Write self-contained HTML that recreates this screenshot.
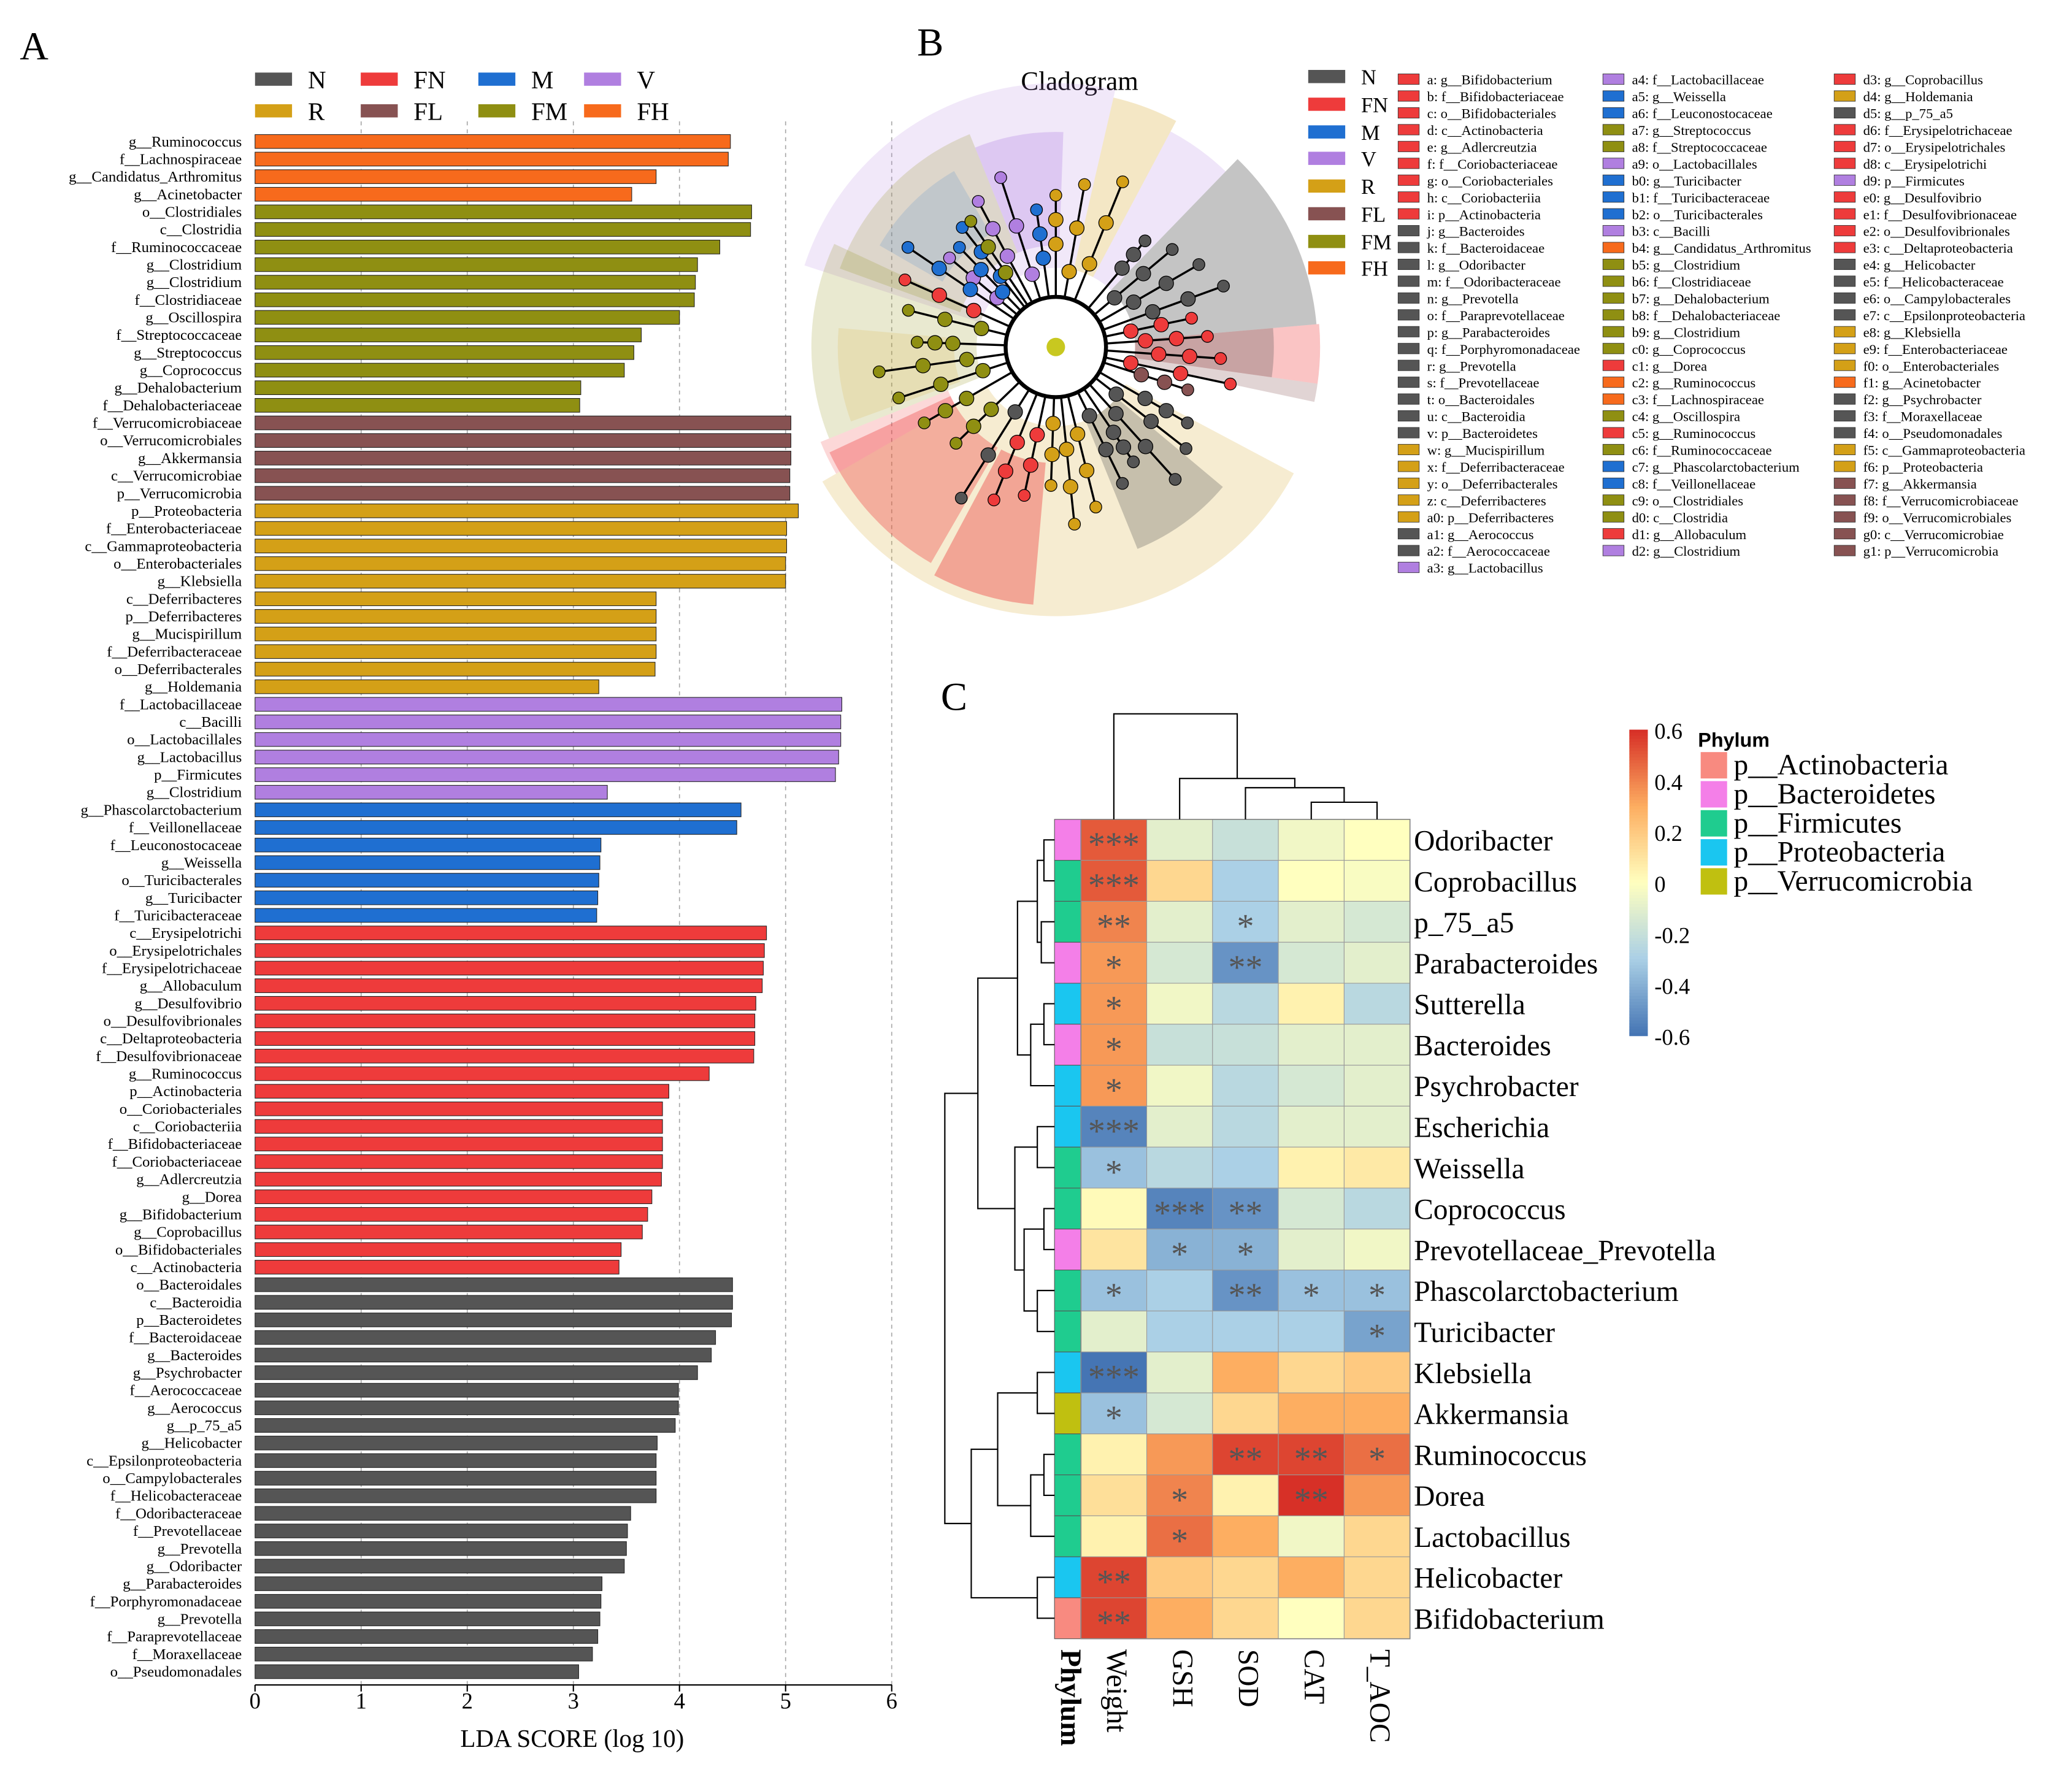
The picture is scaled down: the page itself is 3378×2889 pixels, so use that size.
<!DOCTYPE html>
<html><head><meta charset="utf-8"><style>
html,body{margin:0;padding:0;background:#fff}
svg{display:block;font-family:"Liberation Serif",serif}
</style></head><body>
<svg id="fig" xmlns="http://www.w3.org/2000/svg" width="3378" height="2889" viewBox="0 0 1568 1343" preserveAspectRatio="none">
<g id="pa"></g>
<g id="pb"></g>
<g id="pc"></g>
</svg>
<script>
const groupColors={N:'#555555',FN:'#ee3b3b',M:'#1f6fd1',V:'#b07fe0',R:'#d4a017',FL:'#875252',FM:'#8f8f12',FH:'#f76a1c'};
const ldaLabels=["g__Ruminococcus","f__Lachnospiraceae","g__Candidatus_Arthromitus","g__Acinetobacter","o__Clostridiales","c__Clostridia","f__Ruminococcaceae","g__Clostridium","g__Clostridium","f__Clostridiaceae","g__Oscillospira","f__Streptococcaceae","g__Streptococcus","g__Coprococcus","g__Dehalobacterium","f__Dehalobacteriaceae","f__Verrucomicrobiaceae","o__Verrucomicrobiales","g__Akkermansia","c__Verrucomicrobiae","p__Verrucomicrobia","p__Proteobacteria","f__Enterobacteriaceae","c__Gammaproteobacteria","o__Enterobacteriales","g__Klebsiella","c__Deferribacteres","p__Deferribacteres","g__Mucispirillum","f__Deferribacteraceae","o__Deferribacterales","g__Holdemania","f__Lactobacillaceae","c__Bacilli","o__Lactobacillales","g__Lactobacillus","p__Firmicutes","g__Clostridium","g__Phascolarctobacterium","f__Veillonellaceae","f__Leuconostocaceae","g__Weissella","o__Turicibacterales","g__Turicibacter","f__Turicibacteraceae","c__Erysipelotrichi","o__Erysipelotrichales","f__Erysipelotrichaceae","g__Allobaculum","g__Desulfovibrio","o__Desulfovibrionales","c__Deltaproteobacteria","f__Desulfovibrionaceae","g__Ruminococcus","p__Actinobacteria","o__Coriobacteriales","c__Coriobacteriia","f__Bifidobacteriaceae","f__Coriobacteriaceae","g__Adlercreutzia","g__Dorea","g__Bifidobacterium","g__Coprobacillus","o__Bifidobacteriales","c__Actinobacteria","o__Bacteroidales","c__Bacteroidia","p__Bacteroidetes","f__Bacteroidaceae","g__Bacteroides","g__Psychrobacter","f__Aerococcaceae","g__Aerococcus","g__p_75_a5","g__Helicobacter","c__Epsilonproteobacteria","o__Campylobacterales","f__Helicobacteraceae","f__Odoribacteraceae","f__Prevotellaceae","g__Prevotella","g__Odoribacter","g__Parabacteroides","f__Porphyromonadaceae","g__Prevotella","f__Paraprevotellaceae","f__Moraxellaceae","o__Pseudomonadales"];
const ldaValues=[4.48,4.46,3.78,3.55,4.68,4.67,4.38,4.17,4.15,4.14,4.0,3.64,3.57,3.48,3.07,3.06,5.05,5.05,5.05,5.04,5.04,5.12,5.01,5.01,5.0,5.0,3.78,3.78,3.78,3.78,3.77,3.24,5.53,5.52,5.52,5.5,5.47,3.32,4.58,4.54,3.26,3.25,3.24,3.23,3.22,4.82,4.8,4.79,4.78,4.72,4.71,4.71,4.7,4.28,3.9,3.84,3.84,3.84,3.84,3.83,3.74,3.7,3.65,3.45,3.43,4.5,4.5,4.49,4.34,4.3,4.17,3.99,3.99,3.96,3.79,3.78,3.78,3.78,3.54,3.51,3.5,3.48,3.27,3.26,3.25,3.23,3.18,3.05];
const ldaGroups=[].concat(Array(4).fill('FH'),Array(12).fill('FM'),Array(5).fill('FL'),Array(11).fill('R'),Array(6).fill('V'),Array(7).fill('M'),Array(20).fill('FN'),Array(23).fill('N'));
const ldaTicks=[0,1,2,3,4,5,6];

const NS='http://www.w3.org/2000/svg';
function mk(parent,tag,attrs,text){const e=document.createElementNS(NS,tag);for(const k in attrs)e.setAttribute(k,attrs[k]);if(text!==undefined)e.textContent=text;parent.appendChild(e);return e;}

// ---------- Panel A ----------
const pa=document.getElementById('pa');
const xA=v=>193+v*80.3;
const yA=i=>107+i*13.33;
let t=mk(pa,'text',{x:15,y:45,'font-size':30},'A');


ldaTicks.forEach(v=>{
  if(v>0){const l=mk(pa,'line',{x1:xA(v),x2:xA(v),y1:92,y2:1277,stroke:'#aaa','stroke-dasharray':'3,3','stroke-width':0.8});
  
  }
  const tl=mk(pa,'text',{x:xA(v),y:1295,'font-size':17,'text-anchor':'middle'},String(v));
  
  
  mk(pa,'line',{x1:xA(v),x2:xA(v),y1:1277,y2:1282,stroke:'#000'});
});
mk(pa,'line',{x1:193,x2:675,y1:1277,y2:1277,stroke:'#000'});
t=mk(pa,'text',{x:433,y:1324,'font-size':19,'text-anchor':'middle'},'LDA SCORE (log 10)');


ldaValues.forEach((v,i)=>{
  const r=mk(pa,'rect',{x:xA(0),y:yA(i)-5,width:xA(v)-xA(0),height:10.5,fill:groupColors[ldaGroups[i]],stroke:'#222','stroke-width':0.5});
  
  
  const l=mk(pa,'text',{x:183,y:yA(i)+4,'font-size':11.5,'text-anchor':'end'},ldaLabels[i]);
  
  
});
const legA=[['N',193,60],['FN',273,60],['M',362,60],['V',442,60],['R',193,84],['FL',273,84],['FM',362,84],['FH',442,84]];
legA.forEach(([g,x,y])=>{
  const s=mk(pa,'rect',{x:x,y:y-5,width:28,height:10,fill:groupColors[g]});
  
  
  const tx=mk(pa,'text',{x:x+40,y:y+7,'font-size':19},g);
  
  
});

// ---------- Panel B ----------
const pb=document.getElementById('pb');
t=mk(pb,'text',{x:694,y:42,'font-size':30},'B');


t=mk(pb,'text',{x:817,y:68,'font-size':20,'text-anchor':'middle'},'Cladogram');


const cx=799,cy=263;
function sector(a0,a1,r0,r1,fill,op){
  const R=Math.PI/180;const p=(a,r)=>[cx+r*Math.cos(a*R),cy+r*Math.sin(a*R)];
  const [x0,y0]=p(a0,r1),[x1,y1]=p(a1,r1),[x2,y2]=p(a1,r0),[x3,y3]=p(a0,r0);
  const lg=(a1-a0)>180?1:0;
  const e=mk(pb,'path',{d:`M${x0},${y0}A${r1},${r1} 0 ${lg} 1 ${x1},${y1}L${x2},${y2}A${r0},${r0} 0 ${lg} 0 ${x3},${y3}Z`,fill:fill,'fill-opacity':op});
  
  
}
const wedges=[[-162,-77,60,200,'V',0.18],[-160,-112,77,174,'FM',0.2],[-150,-120,99,154,'M',0.15],[-112,-88,77,163,'V',0.3],[-77,-62,60,194,'R',0.25],[-62,-46,60,185,'V',0.2],[-46,-5,60,198,'N',0.35],[-5,8,60,200,'FN',0.3],[-5,8,60,165,'N',0.3],[8,12,60,200,'FL',0.25],[28,150,60,204,'R',0.2],[40,68,60,165,'N',0.3],[95,118,88,196,'FN',0.4],[120,155,88,189,'FN',0.35],[150,158,88,192,'FN',0.2],[158,205,60,185,'FM',0.2],[160,185,77,165,'R',0.15]];
wedges.forEach(w=>sector(w[0],w[1],w[2],w[3],groupColors[w[4]],w[5]));
let c=mk(pb,'circle',{cx:cx,cy:cy,r:38,fill:'#fff',stroke:'#000','stroke-width':3});


mk(pb,'circle',{cx:cx,cy:cy,r:7,fill:'#c8c820'});
const branchAngles=[-140,-128,-118,-108,-98,-90,-80,-68,-50,-40,-30,-20,-12,-4,4,12,18,30,38,48,56,64,76,84,92,102,112,122,136,150,162,172,182,194,204,214,226,236];
const branchGroups=['V','M','V','V','M','R','R','R','N','N','N','N','FN','FN','FN','FN','FL','N','N','N','N','N','R','R','R','FN','FN','N','FM','FM','FM','FM','FM','FM','FN','M','M','FM'];
branchAngles.forEach((a,i)=>{
  const R=Math.PI/180,col=groupColors[branchGroups[i]];
  const r1=58+(i%3)*10,r2=105+(i%4)*10;
  const x2=cx+r2*Math.cos(a*R),y2=cy+r2*Math.sin(a*R);
  mk(pb,'line',{x1:cx+38*Math.cos(a*R),y1:cy+38*Math.sin(a*R),x2:x2,y2:y2,stroke:'#000','stroke-width':1.6});
  [r1,(r1+r2)/2,r2].forEach((r,k)=>{const d=mk(pb,'circle',{cx:cx+r*Math.cos(a*R),cy:cy+r*Math.sin(a*R),r:k==2?4.5:5.5,fill:col,stroke:'#000','stroke-width':0.6});
  
  });
});
const legB=[['N',58],['FN',79],['M',100],['V',120],['R',141],['FL',162],['FM',183],['FH',203]];
legB.forEach(([g,y])=>{
  const s=mk(pb,'rect',{x:990,y:y-5,width:28,height:10,fill:groupColors[g]});
  
  
  const tx=mk(pb,'text',{x:1030,y:y+6,'font-size':16},g);
  
  
});
const col1=[["a: g__Bifidobacterium","FN"],["b: f__Bifidobacteriaceae","FN"],["c: o__Bifidobacteriales","FN"],["d: c__Actinobacteria","FN"],["e: g__Adlercreutzia","FN"],["f: f__Coriobacteriaceae","FN"],["g: o__Coriobacteriales","FN"],["h: c__Coriobacteriia","FN"],["i: p__Actinobacteria","FN"],["j: g__Bacteroides","N"],["k: f__Bacteroidaceae","N"],["l: g__Odoribacter","N"],["m: f__Odoribacteraceae","N"],["n: g__Prevotella","N"],["o: f__Paraprevotellaceae","N"],["p: g__Parabacteroides","N"],["q: f__Porphyromonadaceae","N"],["r: g__Prevotella","N"],["s: f__Prevotellaceae","N"],["t: o__Bacteroidales","N"],["u: c__Bacteroidia","N"],["v: p__Bacteroidetes","N"],["w: g__Mucispirillum","R"],["x: f__Deferribacteraceae","R"],["y: o__Deferribacterales","R"],["z: c__Deferribacteres","R"],["a0: p__Deferribacteres","R"],["a1: g__Aerococcus","N"],["a2: f__Aerococcaceae","N"],["a3: g__Lactobacillus","V"]];
const col2=[["a4: f__Lactobacillaceae","V"],["a5: g__Weissella","M"],["a6: f__Leuconostocaceae","M"],["a7: g__Streptococcus","FM"],["a8: f__Streptococcaceae","FM"],["a9: o__Lactobacillales","V"],["b0: g__Turicibacter","M"],["b1: f__Turicibacteraceae","M"],["b2: o__Turicibacterales","M"],["b3: c__Bacilli","V"],["b4: g__Candidatus_Arthromitus","FH"],["b5: g__Clostridium","FM"],["b6: f__Clostridiaceae","FM"],["b7: g__Dehalobacterium","FM"],["b8: f__Dehalobacteriaceae","FM"],["b9: g__Clostridium","FM"],["c0: g__Coprococcus","FM"],["c1: g__Dorea","FN"],["c2: g__Ruminococcus","FH"],["c3: f__Lachnospiraceae","FH"],["c4: g__Oscillospira","FM"],["c5: g__Ruminococcus","FN"],["c6: f__Ruminococcaceae","FM"],["c7: g__Phascolarctobacterium","M"],["c8: f__Veillonellaceae","M"],["c9: o__Clostridiales","FM"],["d0: c__Clostridia","FM"],["d1: g__Allobaculum","FN"],["d2: g__Clostridium","V"]];
const col3=[["d3: g__Coprobacillus","FN"],["d4: g__Holdemania","R"],["d5: g__p_75_a5","N"],["d6: f__Erysipelotrichaceae","FN"],["d7: o__Erysipelotrichales","FN"],["d8: c__Erysipelotrichi","FN"],["d9: p__Firmicutes","V"],["e0: g__Desulfovibrio","FN"],["e1: f__Desulfovibrionaceae","FN"],["e2: o__Desulfovibrionales","FN"],["e3: c__Deltaproteobacteria","FN"],["e4: g__Helicobacter","N"],["e5: f__Helicobacteraceae","N"],["e6: o__Campylobacterales","N"],["e7: c__Epsilonproteobacteria","N"],["e8: g__Klebsiella","R"],["e9: f__Enterobacteriaceae","R"],["f0: o__Enterobacteriales","R"],["f1: g__Acinetobacter","FH"],["f2: g__Psychrobacter","N"],["f3: f__Moraxellaceae","N"],["f4: o__Pseudomonadales","N"],["f5: c__Gammaproteobacteria","R"],["f6: p__Proteobacteria","R"],["f7: g__Akkermansia","FL"],["f8: f__Verrucomicrobiaceae","FL"],["f9: o__Verrucomicrobiales","FL"],["g0: c__Verrucomicrobiae","FL"],["g1: p__Verrucomicrobia","FL"]];
[[col1,1058],[col2,1213],[col3,1388]].forEach(([col,x])=>{
  col.forEach(([txt,g],i)=>{
    const y=60+i*12.76;
    const s=mk(pb,'rect',{x:x,y:y-4,width:16,height:8,fill:groupColors[g],stroke:'#333','stroke-width':0.4});
    
    
    const tx=mk(pb,'text',{x:x+22,y:y+4,'font-size':10.5},txt);
    
    
  });
});

// ---------- Panel C ----------
const rowNames=["Odoribacter","Coprobacillus","p_75_a5","Parabacteroides","Sutterella","Bacteroides","Psychrobacter","Escherichia","Weissella","Coprococcus","Prevotellaceae_Prevotella","Phascolarctobacterium","Turicibacter","Klebsiella","Akkermansia","Ruminococcus","Dorea","Lactobacillus","Helicobacter","Bifidobacterium"];
const colNames=["Weight","GSH","SOD","CAT","T_AOC"];
const corrWeight=[0.5,0.5,0.4,0.35,0.35,0.35,0.35,-0.55,-0.35,0.02,0.1,-0.35,-0.1,-0.6,-0.35,0.05,0.12,0.05,0.55,0.55];
const corrGSH=[-0.1,0.15,-0.1,-0.15,-0.05,-0.2,-0.05,-0.1,-0.25,-0.55,-0.4,-0.3,-0.3,-0.1,-0.15,0.35,0.4,0.45,0.2,0.3];
const corrSOD=[-0.2,-0.3,-0.3,-0.5,-0.25,-0.2,-0.25,-0.25,-0.3,-0.5,-0.4,-0.5,-0.3,0.3,0.15,0.55,0.05,0.3,0.15,0.15];
const corrCAT=[-0.05,0.0,-0.1,-0.15,0.05,-0.1,-0.15,-0.1,0.05,-0.15,-0.1,-0.35,-0.3,0.15,0.3,0.55,0.6,-0.05,0.3,0.0];
const corrTAOC=[0.0,-0.02,-0.15,-0.1,-0.25,-0.1,-0.1,-0.1,0.08,-0.25,-0.05,-0.35,-0.45,0.2,0.3,0.45,0.35,0.15,0.15,0.15];
const starsWeight=["***","***","**","*","*","*","*","***","*","","","*","","***","*","","","","**","**"];
const starsGSH=["","","","","","","","","","***","*","","","","","","*","*","",""];
const starsSOD=["","","*","**","","","","","","**","*","**","","","","**","","","",""];
const starsCAT=["","","","","","","","","","","","*","","","","**","**","","",""];
const starsTAOC=["","","","","","","","","","","","*","*","","","*","","","",""];
const rowPhylum=["B","F","F","B","P","B","P","P","F","F","B","F","F","P","V","F","F","F","P","A"];
const phylumNames=["p__Actinobacteria","p__Bacteroidetes","p__Firmicutes","p__Proteobacteria","p__Verrucomicrobia"];
const phylumKeys=["A","B","F","P","V"];
const phylumColors={A:'#f88a80',B:'#f47fe8',F:'#1fcc8f',P:'#1ac6f0',V:'#c0c010'};
const cbarTicks=[0.6,0.4,0.2,0,-0.2,-0.4,-0.6];
const corr=[corrWeight,corrGSH,corrSOD,corrCAT,corrTAOC];
const stars=[starsWeight,starsGSH,starsSOD,starsCAT,starsTAOC];

const pc=document.getElementById('pc');
const stops=[[-0.6,[69,117,180]],[-0.3,[171,208,230]],[0,[255,255,191]],[0.3,[253,174,97]],[0.6,[215,48,39]]];
function colr(v){v=Math.max(-0.6,Math.min(0.6,v));for(let i=0;i<stops.length-1;i++){const[a,ca]=stops[i],[b,cb]=stops[i+1];if(v<=b){const f=(v-a)/(b-a);return 'rgb('+ca.map((x,k)=>Math.round(x+(cb[k]-x)*f)).join(',')+')';}}return 'rgb(215,48,39)';}
const x0C=818,cw=49.8,y0C=621,rh=31.05;
const yC=i=>y0C+rh*i;
t=mk(pc,'text',{x:712,y:538,'font-size':30},'C');


rowNames.forEach((n,i)=>{
  const p=mk(pc,'rect',{x:798,y:yC(i),width:20,height:rh,fill:phylumColors[rowPhylum[i]],stroke:'#555','stroke-width':0.5});
  
  
  corr.forEach((col,j)=>{
    const r=mk(pc,'rect',{x:x0C+cw*j,y:yC(i),width:cw,height:rh,fill:colr(col[i]),stroke:'#999','stroke-width':0.5});
    
    
    if(stars[j][i]){const s=mk(pc,'text',{x:x0C+cw*j+cw/2,y:yC(i)+rh/2+12,'font-size':26,'text-anchor':'middle',fill:'#555'},stars[j][i]);
    
    }
  });
  const l=mk(pc,'text',{x:1070,y:yC(i)+rh/2+8,'font-size':22},n);
  
  
});
mk(pc,'rect',{x:818,y:621,width:cw*5,height:rh*20,fill:'none',stroke:'#888','stroke-width':0.8});
const colLab=["Phylum"].concat(colNames);
colLab.forEach((n,j)=>{
  const x=j==0?808:x0C+cw*(j-1)+cw/2;
  const tx=mk(pc,'text',{x:x,y:1250,'font-size':22,'font-weight':j==0?'bold':'normal',transform:`rotate(90 ${x} 1250)`,'dominant-baseline':'middle'},n);
  
  
});
for(let k=0;k<100;k++){const v=0.6-1.2*k/99;mk(pc,'rect',{x:1233,y:553+k*2.32,width:14,height:2.6,fill:colr(v)});}
cbarTicks.forEach(v=>{
  const y=553+(0.6-v)/1.2*232;
  const tx=mk(pc,'text',{x:1252,y:y+7,'font-size':17},String(v));
  
  
});
t=mk(pc,'text',{x:1285,y:566,'font-size':15,'font-weight':'bold','font-family':'Liberation Sans, sans-serif'},'Phylum');


phylumNames.forEach((n,k)=>{
  const y=580+k*22;
  const s=mk(pc,'rect',{x:1287,y:y-10,width:20,height:20,fill:phylumColors[phylumKeys[k]]});
  
  
  const tx=mk(pc,'text',{x:1312,y:y+7,'font-size':22},n);
  
  
});
const cc=j=>x0C+cw*j+cw/2;
function dl(d){const p=mk(pc,'path',{d:d,fill:'none',stroke:'#000','stroke-width':1});}
const m34=(cc(3)+cc(4))/2,m234=(cc(2)+m34)/2,m1234=(cc(1)+m234)/2;
dl(`M${cc(3)},621V608H${cc(4)}V621`);
dl(`M${cc(2)},621V597H${m34}V608`);
dl(`M${cc(1)},621V590H${m234}V597`);
dl(`M${cc(0)},621V541H${m1234}V590`);
const tree=[715,[740,[770,[785,[790,0,1],[788,2,3]],[780,[790,4,5],6]],[768,[785,7,8],[775,[790,9,10],[785,11,12]]]],[735,[755,[785,13,14],[780,[790,15,16],17]],[785,18,19]]];
function draw(n){
  if(typeof n==='number')return {y:yC(n)+rh/2,x:798};
  const a=draw(n[1]),b=draw(n[2]),x=n[0];
  dl(`M${a.x},${a.y}H${x}V${b.y}H${b.x}`);
  return {y:(a.y+b.y)/2,x:x};
}
draw(tree);
</script>
</body></html>
